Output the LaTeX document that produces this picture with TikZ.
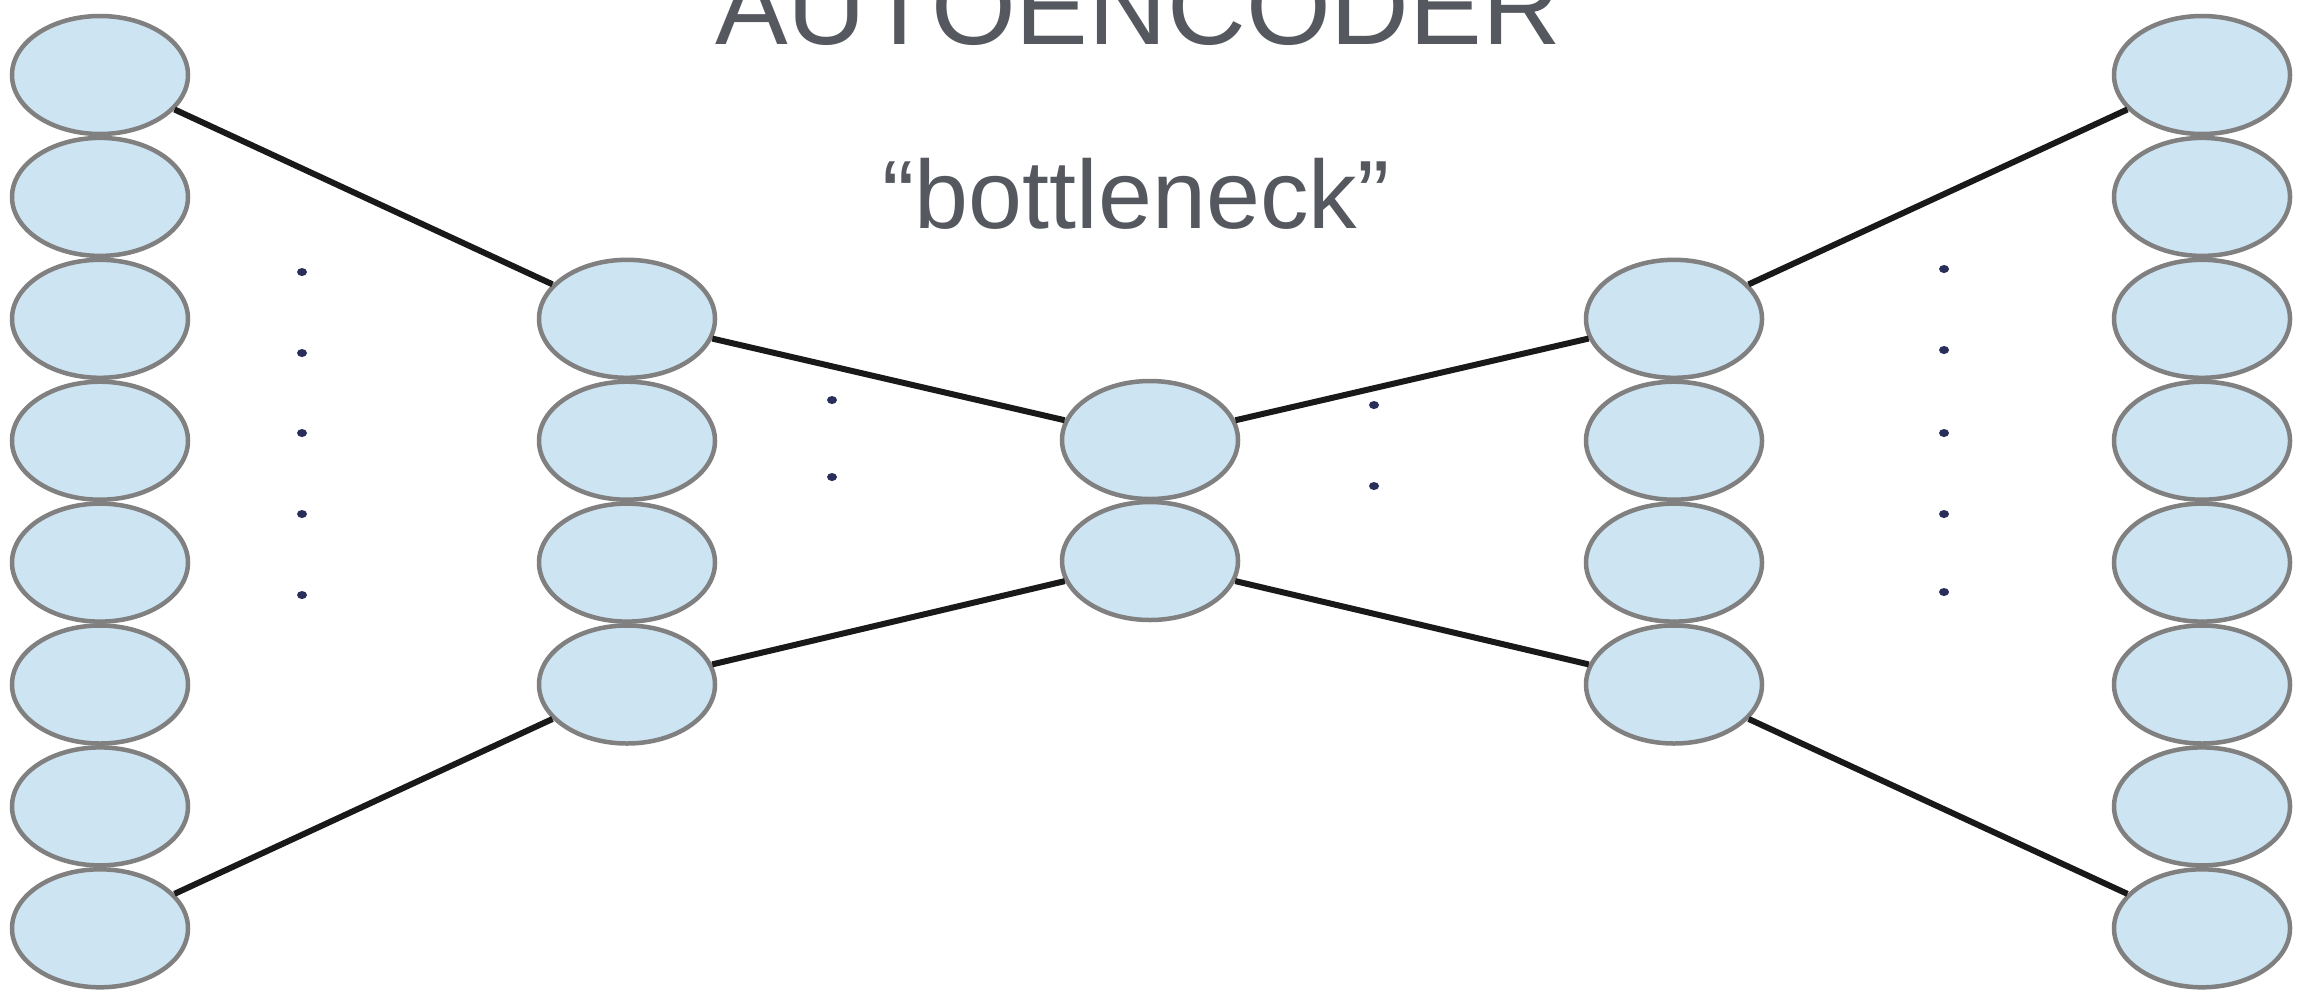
\documentclass[tikz,border=0pt]{standalone}
\usepackage{fontspec}
\setmainfont{Liberation Sans}
\definecolor{nodefill}{RGB}{205,228,243}
\definecolor{nodeborder}{RGB}{128,128,128}
\definecolor{txtgray}{RGB}{85,89,95}
\definecolor{dotcol}{RGB}{40,45,90}
\begin{document}
\begin{tikzpicture}[x=1pt,y=-1pt,
  neuron/.style={ellipse, draw=nodeborder, fill=nodefill, line width=4.5pt,
    minimum width=176pt, minimum height=118pt, inner sep=0pt},
  conn/.style={line width=6pt, draw=black!90},
  dotmark/.style={fill=dotcol, ellipse, minimum width=10pt, minimum height=8pt, inner sep=0pt, draw=none}
]
\usetikzlibrary{shapes.geometric}
\fill[white] (0,0) rectangle (2309,1005);
\useasboundingbox (0,0) rectangle (2309,1005);

% titles
\node[anchor=base, text=txtgray, font=\fontsize{109}{120}\selectfont] (title) at (1138,44) {AUTOENCODER};
\node[anchor=base, text=txtgray, font=\fontsize{97}{110}\selectfont] (sub) at (1136,228) {“bottleneck”};

% column A (input)
\foreach \i in {1,...,8} {
  \node[neuron] (A\i) at (100,{75+121.9*(\i-1)}) {};
}
% column E (output)
\foreach \i in {1,...,8} {
  \node[neuron] (E\i) at (2202,{75+121.9*(\i-1)}) {};
}
% column B and D
\foreach \i in {1,...,4} {
  \node[neuron] (B\i) at (627,{75+121.9*(\i+1)}) {};
  \node[neuron] (D\i) at (1674,{75+121.9*(\i+1)}) {};
}
% column C
\node[neuron] (C1) at (1150,440) {};
\node[neuron] (C2) at (1150,561) {};

% connectors
\draw[conn] (A1) -- (B1);
\draw[conn] (A8) -- (B4);
\draw[conn] (B1) -- (C1);
\draw[conn] (B4) -- (C2);
\draw[conn] (C1) -- (D1);
\draw[conn] (C2) -- (D4);
\draw[conn] (D1) -- (E1);
\draw[conn] (D4) -- (E8);

% dots
\foreach \y [count=\k] in {272,353,433,514,595} {
  \node[dotmark] (dl\k) at (302,\y) {};
}
\foreach \y [count=\k] in {269,350,433,514,592} {
  \node[dotmark] (dr\k) at (1944,\y) {};
}
\node[dotmark] (dbc1) at (832,400) {};
\node[dotmark] (dbc2) at (832,477) {};
\node[dotmark] (dcd1) at (1374,405) {};
\node[dotmark] (dcd2) at (1374,486) {};
\end{tikzpicture}
\end{document}
